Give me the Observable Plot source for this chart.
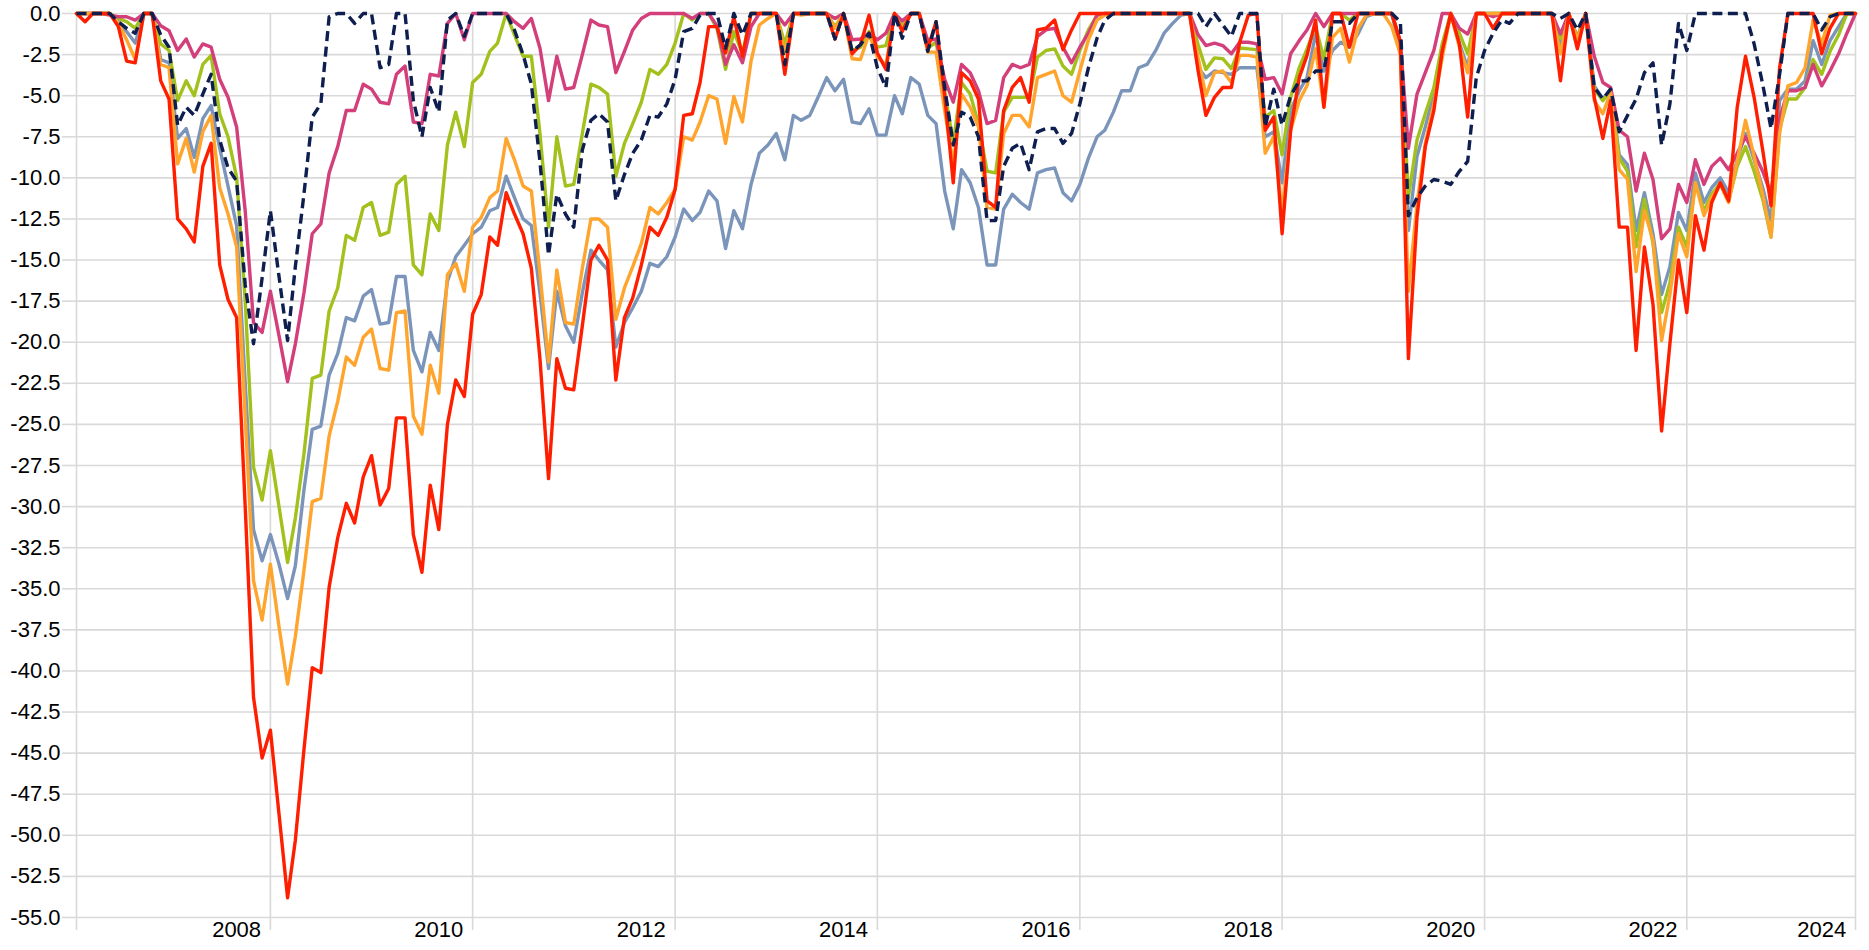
<!DOCTYPE html>
<html><head><meta charset="utf-8">
<script src="https://cdn.jsdelivr.net/npm/d3@7"></script>
<script src="https://cdn.jsdelivr.net/npm/@observablehq/plot@0.6"></script>
<style>
html,body{margin:0;padding:0;background:#fff;}
#chart{width:1869px;height:950px;}
</style></head><body><div id="chart"></div>
<script>
// Monthly observations, Jan 2007 .. Aug 2024
const startYear = 2007;

const red = [0, -0.5, 0, 0, 0, -0.8, -2.9, -3.0, 0, 0, -4.1, -5.2,
-12.5, -13.1, -13.9, -9.3, -7.9, -15.3, -17.4, -18.5, -30.0, -41.6, -45.3, -43.6,
-48.7, -53.8, -50.3, -44.8, -39.8, -40.1, -34.9, -31.9, -29.8, -31.0, -28.2, -26.9,
-29.9, -28.9, -24.6, -24.6, -31.7, -34.0, -28.7, -31.4, -25.0, -22.3, -23.3, -18.3,
-17.1, -13.6, -14.1, -10.9, -12.2, -13.4, -15.5, -21.0, -28.3, -21.0, -22.8, -22.9,
-19.0, -15.0, -14.1, -15.0, -22.3, -18.5, -17.3, -15.3, -13.0, -13.5, -12.4, -10.7,
-6.2, -6.1, -4.2, -0.8, -0.8, -2.4, -0.2, -2.6, 0, 0, 0, 0,
-3.7, 0, 0, 0, 0, 0, -1.55, 0, -2.45, -1.9, -0.1, -2.4,
-3.4, 0, -1.1, 0, 0, -2.15, -0.5, -5.0, -10.3, -3.6, -4.1, -5.2,
-11.4, -11.8, -5.9, -4.5, -3.9, -5.4, -1.0, -0.9, -0.4, -2.2, -1.0, 0,
0, 0, 0, 0, 0, 0, 0, 0, 0, 0, 0, 0,
0, -3.5, -6.2, -5.1, -4.5, -4.5, -1.75, -0.1, 0, -7.1, -6.3, -13.4,
-7.1, -3.9, -2.55, -0.4, -5.7, 0, 0, -2.05, 0, 0, 0, 0,
0, -1.7, -21.0, -12.4, -8.1, -5.9, -2.3, 0, -1.85, -6.3, 0, 0,
-0.9, 0, 0, 0, 0, 0, 0, 0, -4.1, 0, -2.15, 0,
-5.1, -7.6, -5.3, -13.0, -13.0, -20.5, -14.2, -17.7, -25.4, -20.1, -15.0, -18.2,
-12.3, -14.4, -11.5, -10.3, -11.4, -5.7, -2.6, -5.1, -8.3, -11.7, -3.3, 0,
0, 0, 0, -2.45, -0.9, 0, 0, 0];

const orange = [0, 0, 0, 0, 0, -0.6, -1.6, -2.8, 0, 0, -3.1, -3.3,
-9.15, -7.6, -9.65, -7.2, -6.2, -10.6, -12.2, -14.2, -24.5, -34.5, -36.9, -33.5,
-37.3, -40.8, -37.9, -33.9, -29.7, -29.5, -25.7, -23.6, -20.9, -21.4, -19.7, -19.2,
-21.6, -21.7, -18.2, -18.1, -24.5, -25.6, -21.4, -23.1, -15.9, -15.2, -16.9, -13.0,
-12.4, -11.2, -10.8, -7.6, -8.9, -10.5, -10.8, -15.8, -21.2, -15.6, -18.8, -18.9,
-15.5, -12.5, -12.5, -13.0, -18.6, -16.7, -15.4, -14.0, -11.8, -12.2, -11.5, -10.7,
-7.5, -7.7, -6.6, -5.0, -5.2, -7.9, -5.05, -6.6, -2.9, -0.7, -0.3, 0,
-2.45, 0, -0.1, 0, 0, 0, -0.9, 0, -2.75, -2.8, -1.25, -2.65,
-3.15, 0, -1.0, 0, 0, -2.35, -2.35, -5.9, -9.15, -4.9, -5.7, -6.9,
-11.8, -11.9, -7.3, -6.2, -6.2, -6.9, -3.9, -3.7, -3.5, -5.0, -5.4, -3.5,
-1.6, -0.4, -0.1, 0, 0, 0, 0, 0, 0, 0, 0, 0,
0, -2.7, -5.0, -3.6, -3.5, -4.2, -2.55, -2.55, -2.65, -8.5, -7.5, -12.1,
-7.1, -5.3, -4.4, -2.15, -5.7, -1.45, -0.9, -2.95, -0.9, -0.1, 0, 0,
-0.8, -2.5, -16.9, -11.6, -7.9, -5.5, -2.7, 0, -2.05, -3.6, 0, 0,
0, 0, 0, 0, 0, 0, 0, 0, -2.45, 0, -1.6, 0,
-5.3, -6.1, -4.8, -9.5, -10.1, -15.7, -12.0, -13.8, -19.9, -17.1, -13.4, -14.8,
-10.3, -12.3, -11.2, -10.4, -11.5, -9.0, -6.5, -8.7, -11.0, -13.6, -7.3, -4.4,
-4.2, -3.3, -0.4, -1.85, -0.1, 0, 0, 0];

const green = [0, 0, 0, 0, 0, -0.3, -0.5, -0.9, 0, 0, -1.85, -2.25,
-5.3, -4.1, -5.0, -3.1, -2.55, -6.1, -7.5, -9.95, -17.5, -27.6, -29.6, -26.6,
-30.0, -33.4, -30.7, -26.8, -22.2, -22.0, -18.1, -16.7, -13.5, -13.8, -11.8, -11.5,
-13.5, -13.3, -10.4, -9.9, -15.3, -15.9, -12.2, -13.2, -8.0, -6.0, -8.1, -4.2,
-3.7, -2.3, -1.8, 0, -1.3, -2.6, -2.6, -7.3, -13.0, -7.5, -10.5, -10.4,
-7.3, -4.3, -4.5, -4.9, -9.9, -7.9, -6.7, -5.4, -3.4, -3.7, -3.1, -1.8,
0, -0.4, 0, 0, -0.9, -3.4, -1.1, -2.45, 0, 0, 0, 0,
-1.85, 0, 0, 0, 0, 0, -0.8, 0, -2.25, -2.05, -1.1, -2.05,
-1.95, 0, -0.8, 0, 0, -2.1, -1.75, -4.7, -7.9, -4.2, -4.9, -6.7,
-9.6, -9.7, -6.0, -5.1, -5.1, -5.1, -2.65, -2.25, -2.15, -3.2, -3.7, -2.25,
-1.0, -0.1, 0, 0, 0, 0, 0, 0, 0, 0, 0, 0,
0, -1.9, -3.4, -2.7, -2.75, -3.35, -2.1, -2.15, -2.2, -6.3, -5.9, -8.6,
-5.1, -3.3, -2.15, -0.8, -2.75, 0, 0, -0.4, 0, 0, 0, 0,
0, -1.7, -11.2, -7.7, -6.1, -4.5, -1.85, 0, -1.2, -2.45, 0, 0,
0, 0, 0, 0, 0, 0, 0, 0, -1.5, 0, -1.5, 0,
-4.6, -5.3, -4.7, -8.8, -9.6, -14.2, -11.3, -14.0, -18.2, -16.4, -13.0, -14.2,
-10.3, -12.0, -11.0, -10.3, -11.4, -9.3, -8.1, -9.6, -11.3, -13.6, -7.0, -5.2,
-5.2, -4.5, -2.8, -3.7, -2.3, -1.3, 0, 0];

const blue = [0, 0, 0, 0, 0, -0.5, -1.1, -1.8, 0, 0, -2.8, -3.0,
-7.6, -7.0, -8.75, -6.4, -5.6, -8.2, -10.5, -12.9, -22.5, -31.4, -33.3, -31.7,
-33.5, -35.6, -33.6, -29.0, -25.3, -25.1, -22.0, -20.7, -18.5, -18.7, -17.2, -16.8,
-18.9, -18.8, -16.0, -16.0, -20.5, -21.8, -19.4, -20.5, -16.3, -14.8, -14.1, -13.4,
-13.0, -12.0, -11.8, -9.9, -11.2, -12.5, -12.9, -17.0, -21.6, -16.9, -19.0, -20.0,
-17.0, -14.4, -15.0, -15.6, -20.3, -18.8, -17.9, -16.9, -15.2, -15.4, -14.8, -13.6,
-11.9, -12.6, -12.1, -10.8, -11.4, -14.3, -12.0, -13.1, -10.4, -8.5, -8.0, -7.3,
-8.9, -6.2, -6.5, -6.2, -5.1, -3.9, -4.7, -4.0, -6.6, -6.7, -5.8, -7.4,
-7.4, -5.0, -6.1, -3.9, -4.3, -6.2, -6.7, -10.8, -13.1, -9.5, -10.3, -11.8,
-15.3, -15.3, -11.9, -11.0, -11.5, -11.9, -9.7, -9.5, -9.4, -10.9, -11.4, -10.4,
-8.8, -7.5, -7.1, -6.0, -4.7, -4.7, -3.3, -3.1, -2.25, -1.2, -0.6, -0.1,
0, -3.3, -3.9, -3.5, -3.6, -3.7, -3.3, -3.3, -3.3, -7.5, -7.2, -10.3,
-5.9, -4.7, -3.9, -1.25, -3.5, -2.25, -1.75, -2.05, -1.25, -0.2, 0, 0,
0, -2.2, -13.2, -8.7, -6.9, -4.9, -2.25, 0, -1.8, -3.3, 0, 0,
0, 0, 0, 0, 0, 0, 0, 0, -2.0, 0, -1.45, 0,
-4.4, -5.2, -4.6, -8.6, -9.2, -13.2, -10.9, -13.4, -17.1, -15.4, -12.1, -13.2,
-9.7, -11.5, -10.6, -10.0, -10.9, -8.9, -7.3, -8.9, -10.6, -12.6, -5.3, -4.6,
-4.6, -4.1, -1.65, -3.1, -1.65, -0.8, 0, 0];

const pink = [0, 0, 0, 0, -0.1, -0.2, -0.2, -0.4, 0, 0, -0.75, -1.05,
-2.25, -1.55, -2.65, -1.85, -2.05, -4.0, -5.1, -6.9, -12.0, -18.8, -19.4, -16.9,
-19.6, -22.4, -20.1, -17.0, -13.4, -12.8, -9.7, -8.1, -5.9, -5.9, -4.3, -4.6,
-5.4, -5.5, -3.7, -3.2, -6.6, -6.7, -3.7, -3.8, -0.6, 0, -1.6, 0,
0, 0, 0, 0, -0.5, -0.9, -0.3, -2.1, -5.3, -2.6, -4.6, -4.5,
-2.5, -0.4, -0.7, -0.8, -3.6, -2.3, -1.0, -0.3, 0, 0, 0, 0,
0, -0.3, 0, 0, -0.75, -3.1, -1.9, -3.0, -0.8, 0, 0, 0,
-0.7, 0, 0, 0, 0, 0, -0.3, 0, -1.6, -1.55, -1.2, -1.6,
-1.2, 0, -0.45, 0, 0, -1.65, -1.55, -4.0, -5.4, -3.1, -3.6, -4.7,
-6.7, -6.5, -3.9, -3.1, -3.3, -3.1, -1.4, -1.0, -0.9, -2.05, -3.0, -2.05,
-1.2, -0.1, 0, 0, 0, 0, 0, 0, 0, 0, 0, 0,
0, -1.3, -1.95, -1.8, -1.95, -2.45, -1.75, -1.75, -1.85, -4.0, -3.9, -4.9,
-2.45, -1.65, -1.0, 0, -0.8, 0, 0, 0, 0, 0, 0, 0,
0, -1.75, -8.2, -4.9, -3.6, -2.25, 0, 0, -0.9, -1.25, 0, 0,
-0.2, 0, 0, 0, 0, 0, 0, 0, -1.25, 0, -1.65, 0,
-2.6, -4.2, -4.5, -7.1, -7.5, -10.8, -8.5, -10.1, -13.7, -13.1, -10.4, -11.5,
-8.9, -10.4, -9.3, -8.8, -9.5, -8.5, -7.5, -8.5, -9.6, -11.0, -6.4, -4.7,
-4.7, -4.5, -3.1, -4.4, -3.5, -2.45, -1.2, 0];

const navy = [0, 0, 0, 0, 0, -0.5, -0.9, -1.2, 0, 0, -1.3, -2.05,
-6.8, -5.7, -6.2, -4.9, -3.7, -7.7, -9.4, -10.2, -16.5, -20.1, -16.1, -12.0,
-16.0, -19.9, -15.4, -11.0, -6.3, -5.5, -0.2, 0, 0, -0.6, 0, 0,
-3.3, -3.1, 0, 0, -5.3, -7.5, -4.5, -6.0, -0.4, 0, -1.4, 0,
0, 0, 0, 0, -1.0, -2.5, -4.3, -9.0, -14.7, -11.0, -12.2, -13.0,
-8.3, -6.5, -6.1, -6.6, -11.4, -9.8, -8.5, -7.7, -6.2, -6.3, -5.5, -4.0,
-1.1, -0.9, -0.1, 0, 0, -2.1, 0, -1.3, 0, 0, 0, 0,
-3.1, 0, 0, 0, 0, 0, -1.55, 0, -2.3, -1.9, -1.2, -3.3,
-4.5, 0, -1.5, 0, 0, -2.3, -0.5, -4.5, -8.0, -6.0, -6.3, -7.5,
-12.6, -12.6, -9.3, -8.2, -7.9, -9.5, -7.2, -7.0, -7.0, -7.9, -7.3, -5.5,
-3.3, -1.5, -0.4, 0, 0, 0, 0, 0, 0, 0, 0, 0,
0, 0, -0.8, 0, -0.7, -1.4, 0, 0, 0, -6.9, -4.6, -6.8,
-5.0, -4.1, -4.1, -3.5, -3.5, -0.5, -0.5, -0.6, 0, 0, 0, 0,
0, -0.5, -12.3, -11.2, -10.5, -10.1, -10.2, -10.4, -9.6, -9.0, -3.9, -2.25,
-1.2, -0.4, -0.6, 0, 0, 0, 0, 0, -0.3, 0, -1.0, 0,
-4.5, -5.2, -4.6, -7.2, -6.2, -5.2, -3.6, -3.0, -8.0, -5.5, -0.6, -2.25,
0, 0, 0, 0, 0, 0, 0, -1.85, -4.3, -7.0, -3.7, 0,
0, 0, 0, -1.0, -0.2, 0, 0, 0];

const yearLabels = ["2008", "2010", "2012", "2014", "2016", "2018", "2020", "2022", "2024"];
const yTickValues = d3.range(0, 23).map(k => -2.5 * k);

// ---------------------------------------------------------------
const n = red.length;
const dates = d3.range(n).map(i => new Date(Date.UTC(startYear, i, 1)));

// vertical gridlines: chart edges and every 24 months (each December of even years)
const gridIdx = [0, ...d3.range(23, n - 1, 24), n - 1];
const gridDates = gridIdx.map(i => dates[i]);

// year labels sit in the second half of their year (last one kept inside the frame)
const labelDates = yearLabels.map(y => {
  const idx = Math.min((+y - startYear) * 12 + 7, n - 5);
  return dates[idx];
});
const labelByTime = new Map(labelDates.map((d, i) => [d.getTime(), yearLabels[i]]));

const series = [
  {values: blue,   color: "#7b95ba"},
  {values: green,  color: "#a3c11c"},
  {values: pink,   color: "#d33f7b"},
  {values: orange, color: "#ffa52e"},
  {values: red,    color: "#ff1f00"},
  {values: navy,   color: "#0e1f4f", dash: "10,5.5"}
];

const gridStyle = {stroke: "#d9d9d9", strokeOpacity: 1, strokeWidth: 1.6};

const chart = Plot.plot({
  width: 1869,
  height: 950,
  marginLeft: 76,
  marginRight: 14,
  marginTop: 13,
  marginBottom: 33,
  style: {fontFamily: "'Liberation Sans', Arial, sans-serif", fontSize: "22px", color: "#000", background: "#fff"},
  x: {type: "utc", domain: [dates[0], dates[n - 1]]},
  y: {domain: [-55, 0]},
  marks: [
    Plot.gridY(yTickValues, gridStyle),
    Plot.gridX(gridDates, gridStyle),
    Plot.axisY(yTickValues, {...gridStyle, tickSize: 14, tickPadding: 2, fill: "#000",
      tickFormat: d => d.toFixed(1), label: null}),
    Plot.axisX(gridDates, {...gridStyle, tickSize: 13, tickFormat: () => "", label: null}),
    Plot.axisX(labelDates, {tickSize: 0, tickPadding: 4, fill: "#000",
      tickFormat: d => labelByTime.get(d.getTime()), label: null}),
    ...series.map(s => Plot.line(s.values, {
      x: (d, i) => dates[i],
      y: d => d,
      stroke: s.color,
      strokeWidth: 3.4,
      strokeDasharray: s.dash,
      strokeLinecap: s.dash ? "butt" : "round",
      strokeLinejoin: "round"
    }))
  ]
});

document.getElementById("chart").appendChild(chart);
</script>
</body></html>
